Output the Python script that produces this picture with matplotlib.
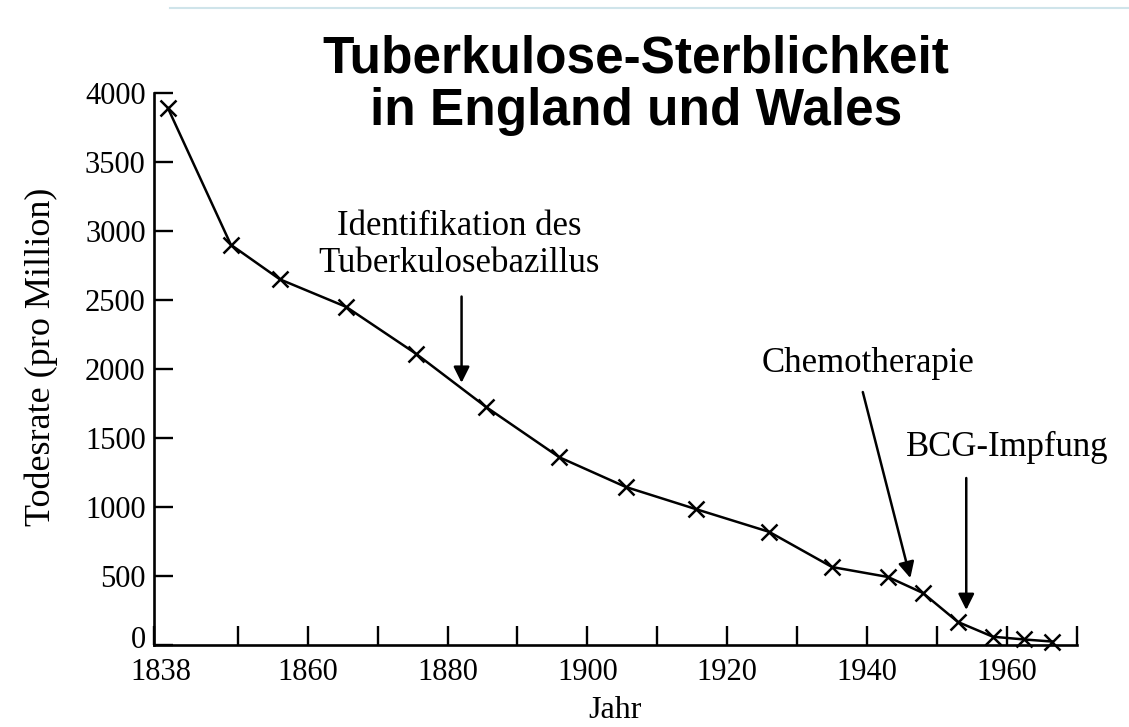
import matplotlib
matplotlib.use("Agg")
import matplotlib.pyplot as plt
from matplotlib.lines import Line2D
from matplotlib.transforms import ScaledTranslation

# ---- data ----
years = [1840, 1849, 1856, 1865.5, 1875.5, 1885.5, 1896, 1905.5, 1915.5, 1926,
         1935, 1943, 1948, 1953, 1958, 1962.5, 1966.5]
rates = [3890, 2900, 2650, 2450, 2110, 1725, 1360, 1145, 985, 820,
         565, 493, 377, 167, 60, 40, 25]

xtick_pos = [1838, 1850, 1860, 1870, 1880, 1890, 1900, 1910, 1920, 1930, 1940, 1950, 1960, 1970]
xtick_lab = ["1838", "", "1860", "", "1880", "", "1900", "", "1920", "", "1940", "", "1960", ""]
ytick_pos = [0, 500, 1000, 1500, 2000, 2500, 3000, 3500, 4000]

title_text = "Tuberkulose-Sterblichkeit\nin England und Wales"
xlabel_text = "Jahr"
ylabel_text = "Todesrate (pro Million)"

annotations = [
    # text, text position (x, y), arrow start, arrow tip
    ("Identifikation des\nTuberkulosebazillus", (1881.6, 2900), (1882, 2525), (1882, 1900)),
    ("Chemotherapie", (1940.1, 2043), (1939.4, 1833), (1946.2, 485)),
    ("BCG-Impfung", (1960.0, 1428), (1954.2, 1210), (1954.2, 254)),
]

serif = ["Liberation Serif", "DejaVu Serif"]

fig = plt.figure(figsize=(11.29, 7.27), dpi=100)
fig.patch.set_facecolor("white")

# faint slide decoration line at the top
fig.add_artist(Line2D([170 / 1129, 1.0], [1 - 8 / 727, 1 - 8 / 727],
                      color="#cfe4ea", lw=1.5, transform=fig.transFigure))

ax_left, ax_right, ax_bottom, ax_top = 154, 1076.7, 645, 93
ax_w = ax_right - ax_left
ax_h = ax_bottom - ax_top
ax = fig.add_axes([ax_left / 1129, 1 - ax_bottom / 727, ax_w / 1129, ax_h / 727])
ax.set_xlim(1838, 1970)
ax.set_ylim(0, 4000)
ax.patch.set_alpha(0)

ax.plot(years, rates, color="black", lw=1.8, marker="x", markersize=12,
        markeredgewidth=1.8, clip_on=False)

for s in ["top", "right"]:
    ax.spines[s].set_visible(False)
for s in ["left", "bottom"]:
    ax.spines[s].set_linewidth(1.9)

ax.set_xticks(xtick_pos)
ax.set_xticklabels(xtick_lab)
ax.set_yticks(ytick_pos)
ax.set_yticklabels([str(v) for v in ytick_pos])
ax.tick_params(axis="both", direction="in", length=14, width=1.7, labelsize=22)
ax.tick_params(axis="x", pad=9)
ax.tick_params(axis="y", pad=6)
for lab in ax.get_xticklabels() + ax.get_yticklabels():
    lab.set_family(serif)

# the "0" sits a little higher and "1838" a little to the right in the reference
ylabs = ax.get_yticklabels()
ylabs[0].set_transform(ylabs[0].get_transform() +
                       ScaledTranslation(0, 8 / 100, fig.dpi_scale_trans))
xlabs = ax.get_xticklabels()
xlabs[0].set_transform(xlabs[0].get_transform() +
                       ScaledTranslation(7 / 100, 0, fig.dpi_scale_trans))

ax.set_xlabel(xlabel_text, family=serif, fontsize=23)
ax.xaxis.label.set_verticalalignment("center")
ax.xaxis.set_label_coords(0.5, (ax_bottom - 711) / ax_h)

ax.set_ylabel(ylabel_text, family=serif, fontsize=26)
ax.yaxis.label.set_verticalalignment("center")
ax.yaxis.set_label_coords((41 - ax_left) / ax_w, (ax_bottom - 357) / ax_h)

for text, tpos, start, tip in annotations:
    ax.text(tpos[0], tpos[1], text, family=serif, fontsize=25, ha="center",
            va="center", multialignment="center", linespacing=1.15)
    ax.annotate("", xy=tip, xytext=start,
                arrowprops=dict(arrowstyle="-|>", color="black", lw=1.8,
                                mutation_scale=24, shrinkA=0, shrinkB=0))

fig.text(636 / 1129, 1 - 85 / 727, title_text, ha="center", va="center",
         fontsize=37, fontweight="bold", family=["Liberation Sans", "DejaVu Sans"],
         linespacing=1.1)

fig.savefig("out.png", dpi=100)
